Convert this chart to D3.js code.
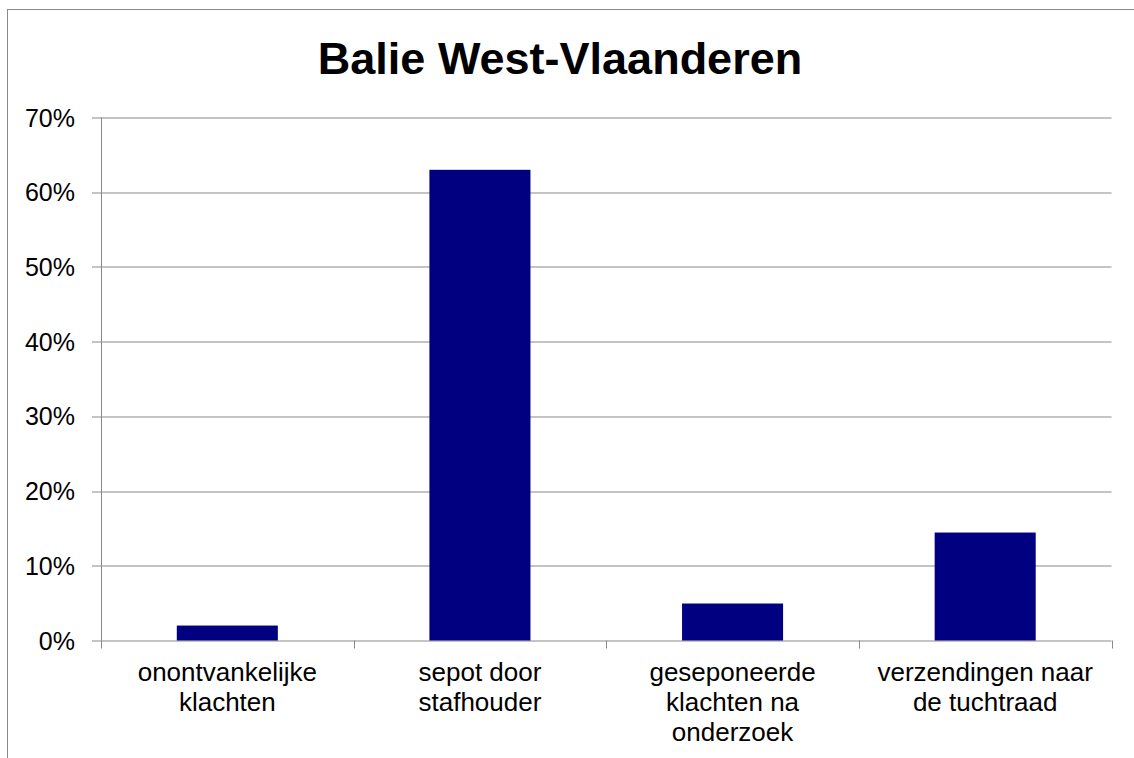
<!DOCTYPE html>
<html>
<head>
<meta charset="utf-8">
<script src="https://cdn.jsdelivr.net/npm/d3@7"></script>
<style>
  body { margin: 0; background: #fff; }
  text { font-family: Arial, "Liberation Sans", sans-serif; fill: #000; }
</style>
</head>
<body>
<svg id="chart" width="1134" height="758"></svg>
<script>
/// DATA ///
var categories = [
  ["onontvankelijke", "klachten"],
  ["sepot door", "stafhouder"],
  ["geseponeerde", "klachten na", "onderzoek"],
  ["verzendingen naar", "de tuchtraad"]
];
var values = [2.0, 63.0, 4.95, 14.45];
var yTicks = [0, 10, 20, 30, 40, 50, 60, 70];
var chartTitle = "Balie West-Vlaanderen";

var COLOR = { BAR: "#000080", GRID: "#898989" };

var svg = d3.select("#chart");
var margin = { left: 101, top: 117.5, right: 22.5, bottom: 117.5 };
var width = 1134 - margin.left - margin.right;
var height = 640.5 - margin.top;

// outer chart border (runs off the right and bottom of the picture)
svg.append("rect")
  .attr("x", 7.5).attr("y", 9.5)
  .attr("width", 1140).attr("height", 760)
  .attr("fill", "none")
  .attr("stroke", COLOR.GRID);

svg.append("text")
  .attr("x", 560)
  .attr("y", 74)
  .attr("text-anchor", "middle")
  .style("font-size", "45px")
  .style("font-weight", "bold")
  .text(chartTitle);

var g = svg.append("g")
  .attr("transform", "translate(" + margin.left + "," + margin.top + ")");

var x = d3.scaleBand()
  .domain(d3.range(categories.length))
  .range([0, width])
  .paddingInner(0.6)
  .paddingOuter(0.3);
var y = d3.scaleLinear().domain([0, 70]).range([height, 0]);

// gridlines
g.selectAll(".grid")
  .data(yTicks)
  .enter()
  .append("line")
  .attr("x1", -9).attr("x2", width)
  .attr("y1", function (d) { return Math.round(y(d)) + 0.5; })
  .attr("y2", function (d) { return Math.round(y(d)) + 0.5; })
  .attr("stroke", COLOR.GRID);

// y axis line
g.append("line")
  .attr("x1", 0.5).attr("x2", 0.5)
  .attr("y1", 0).attr("y2", height)
  .attr("stroke", COLOR.GRID);

// y tick labels
g.selectAll(".ylab")
  .data(yTicks)
  .enter()
  .append("text")
  .attr("x", -26)
  .attr("y", function (d) { return y(d) + 9; })
  .attr("text-anchor", "end")
  .style("font-size", "25px")
  .text(function (d) { return d + "%"; });

// x category boundary ticks
var step = x.step();
g.selectAll(".xtick")
  .data(d3.range(categories.length + 1))
  .enter()
  .append("line")
  .attr("x1", function (d) { return Math.round(d * width / categories.length) + 0.5; })
  .attr("x2", function (d) { return Math.round(d * width / categories.length) + 0.5; })
  .attr("y1", height).attr("y2", height + 8)
  .attr("stroke", COLOR.GRID);

// bars
g.selectAll(".bar")
  .data(values)
  .enter()
  .append("rect")
  .attr("class", "bar")
  .attr("x", function (d, i) { return x(i); })
  .attr("width", x.bandwidth())
  .attr("y", function (d) { return y(d); })
  .attr("height", function (d) { return height - y(d); })
  .attr("fill", COLOR.BAR);

// category labels
var labels = g.selectAll(".xlab")
  .data(categories)
  .enter()
  .append("text")
  .attr("text-anchor", "middle")
  .attr("transform", function (d, i) {
    return "translate(" + (x(i) + x.bandwidth() / 2) + "," + (height + 40) + ")";
  })
  .style("font-size", "26px");

labels.selectAll("tspan")
  .data(function (d) { return d; })
  .enter()
  .append("tspan")
  .attr("x", 0)
  .attr("y", function (d, i) { return i * 30; })
  .text(function (d) { return d; });
</script>
</body>
</html>
